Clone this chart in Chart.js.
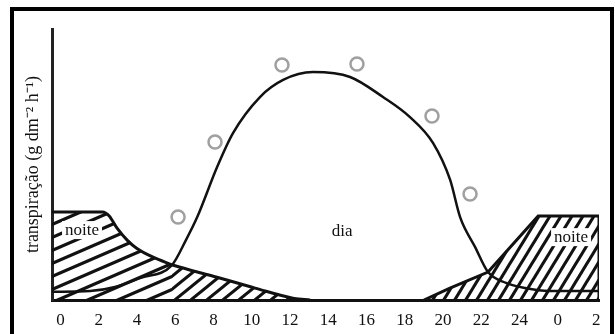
<!DOCTYPE html>
<html>
<head>
<meta charset="utf-8">
<script src="https://cdn.jsdelivr.net/npm/chart.js@4"></script>
<style>
  html, body { margin: 0; padding: 0; background: #fff; overflow: hidden; }
  #wrap { position: relative; width: 615px; height: 334px; overflow: hidden; }
  #frame { position: absolute; left: 10px; top: 7px; width: 604px; height: 360px; border: 4px solid #000; box-sizing: border-box; pointer-events: none; }
  canvas { position: absolute; left: 0; top: 0; }
</style>
</head>
<body>
<div id="wrap">
  <canvas id="chart" width="615" height="345"></canvas>
  <div id="frame"></div>
</div>
<script>
// hours of the day on the x axis (26 and 28 are 0 and 2 of the next day)
const tickHours = [0, 2, 4, 6, 8, 10, 12, 14, 16, 18, 20, 22, 24, 26, 28];
const tickLabels = ['0', '2', '4', '6', '8', '10', '12', '14', '16', '18', '20', '22', '24', '0', '2'];

// night transpiration, early morning (hatched)
const nightAmHours = [-0.44, 2.2, 2.55, 2.96, 3.5, 4.0, 4.84, 5.83];
const nightAmValues = [32.5, 32.5, 31.0, 26.5, 22.0, 19.0, 15.8, 13.0];

// night transpiration, dying off during the morning (hatched)
const nightTailHours = [5.83, 7.0, 8.13, 10.17, 12.21, 13.05];
const nightTailValues = [13.0, 10.6, 8.5, 4.4, 0.6, 0];

// night transpiration, evening side (hatched)
const nightPmHours = [19.0, 20.36, 22.35, 24.97, 28.15, 28.15];
const nightPmValues = [0, 4.4, 10.3, 31.0, 31.0, 0];

// day transpiration curve
const dayHours = [-0.44, 1.55, 2.85, 4.16, 5.83, 6.56, 7.15, 8.19, 9.02, 10.43, 11.64, 13.2,
  15.14, 16.86, 18.27, 19.48, 20.37, 20.89, 21.67, 22.35, 23.29, 24.28, 25.54, 28.15];
const dayValues = [3.0, 3.3, 4.8, 8.1, 12.9, 22.1, 30.6, 49.1, 61.6, 74.9, 81.2, 84.1,
  82.3, 74.9, 67.5, 57.9, 44.3, 30.6, 19.6, 10.3, 6.3, 4.4, 3.3, 3.3];

// measured points (circles)
const obsHours = [6.15, 8.08, 11.58, 15.5, 19.42, 21.41];
const obsValues = [30.6, 58.3, 86.7, 87.1, 67.9, 39.1];

const serif = "'Liberation Serif', 'Times New Roman', serif";
const ink = '#111';

const toPoints = (xs, ys) => xs.map((x, i) => ({ x: x, y: ys[i] }));

// repeating diagonal hatch, lines going up to the right
function hatch(w, h, lw) {
  const c = document.createElement('canvas');
  c.width = w;
  c.height = h;
  const g = c.getContext('2d');
  g.strokeStyle = ink;
  g.lineWidth = lw;
  for (let k = 0; k < 3; k++) {
    g.beginPath();
    g.moveTo(k * w - 2 * w, 2 * h);
    g.lineTo(k * w + w, -h);
    g.stroke();
  }
  return g.createPattern(c, 'repeat');
}

const nightLine = {
  borderColor: ink,
  borderWidth: 3,
  pointRadius: 0,
  fill: 'origin',
  order: 3
};

const areaLabels = {
  id: 'areaLabels',
  afterDatasetsDraw(chart) {
    const { ctx, scales: { x, y } } = chart;
    const items = [
      { text: 'noite', h: 1.13, v: 25.8, box: true },
      { text: 'dia', h: 14.72, v: 25.1, box: false },
      { text: 'noite', h: 26.69, v: 23.2, box: true }
    ];
    ctx.save();
    ctx.font = '17px ' + serif;
    ctx.textAlign = 'center';
    ctx.textBaseline = 'middle';
    items.forEach(it => {
      const px = x.getPixelForValue(it.h);
      const py = y.getPixelForValue(it.v);
      if (it.box) {
        const w = ctx.measureText(it.text).width;
        ctx.fillStyle = '#fff';
        ctx.fillRect(px - w / 2 - 3, py - 9, w + 6, 18);
      }
      ctx.fillStyle = ink;
      ctx.fillText(it.text, px, py);
    });
    ctx.restore();
  }
};

new Chart(document.getElementById('chart'), {
  type: 'line',
  data: {
    datasets: [
      {
        type: 'scatter',
        data: toPoints(obsHours, obsValues),
        pointStyle: 'circle',
        pointRadius: 6.5,
        pointBorderWidth: 2.5,
        pointBorderColor: '#a0a0a0',
        pointBackgroundColor: 'rgba(255,255,255,0)',
        order: 0
      },
      {
        data: toPoints(dayHours, dayValues),
        borderColor: ink,
        borderWidth: 2.5,
        pointRadius: 0,
        cubicInterpolationMode: 'monotone',
        fill: false,
        order: 1
      },
      Object.assign({}, nightLine, {
        data: toPoints(nightAmHours, nightAmValues),
        cubicInterpolationMode: 'monotone',
        backgroundColor: hatch(30, 13, 3.2)
      }),
      Object.assign({}, nightLine, {
        data: toPoints(nightTailHours, nightTailValues),
        cubicInterpolationMode: 'monotone',
        backgroundColor: hatch(16, 13, 3)
      }),
      Object.assign({}, nightLine, {
        data: toPoints(nightPmHours, nightPmValues),
        tension: 0,
        backgroundColor: hatch(11, 18, 3)
      })
    ]
  },
  options: {
    responsive: false,
    animation: false,
    events: [],
    layout: { padding: { left: 14, right: 16, top: 29, bottom: 4.6 } },
    plugins: { legend: { display: false }, tooltip: { enabled: false } },
    scales: {
      x: {
        type: 'linear',
        min: -0.44,
        max: 28.15,
        grid: { display: false, drawTicks: false },
        border: { display: true, color: ink, width: 3 },
        afterBuildTicks: scale => { scale.ticks = tickHours.map(v => ({ value: v })); },
        ticks: {
          autoSkip: false,
          maxRotation: 0,
          padding: 10,
          color: ink,
          font: { family: serif, size: 17 },
          callback: (v, i) => tickLabels[i]
        }
      },
      y: {
        min: 0,
        max: 100,
        grid: { display: false, drawTicks: false },
        border: { display: true, color: '#222', width: 3 },
        ticks: { display: false },
        title: {
          display: true,
          text: 'transpiração (g dm⁻² h⁻¹)',
          color: ink,
          font: { family: serif, size: 18 },
          padding: { top: 8.2, bottom: 8.2 }
        }
      }
    }
  },
  plugins: [areaLabels]
});
</script>
</body>
</html>
